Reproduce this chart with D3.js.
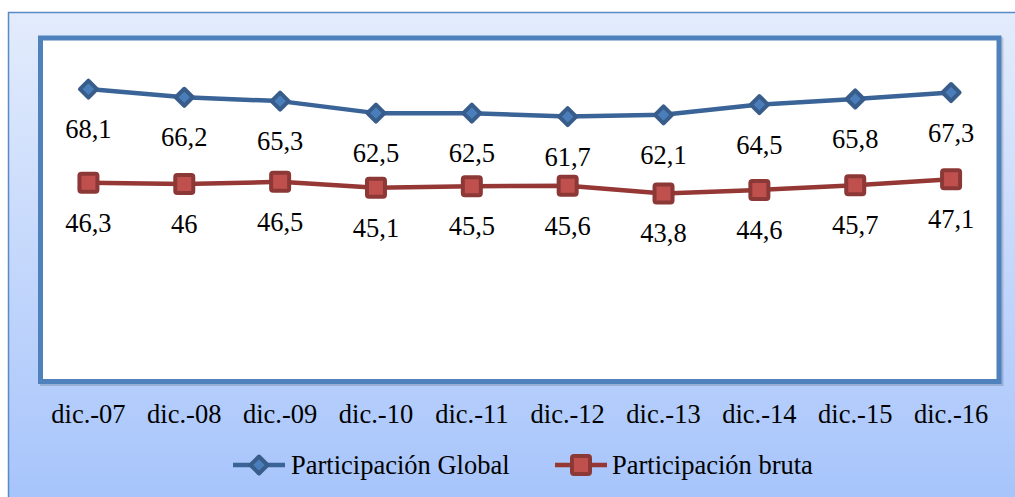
<!DOCTYPE html>
<html><head><meta charset="utf-8">
<script src="https://cdn.jsdelivr.net/npm/d3@7/dist/d3.min.js"></script>
</head><body style="margin:0;overflow:hidden;font-family:'Liberation Serif'">
<script>
const categories = ["dic.-07","dic.-08","dic.-09","dic.-10","dic.-11","dic.-12","dic.-13","dic.-14","dic.-15","dic.-16"];
const global = [68.1,66.2,65.3,62.5,62.5,61.7,62.1,64.5,65.8,67.3];
const bruta = [46.3,46,46.5,45.1,45.5,45.6,43.8,44.6,45.7,47.1];
const seriesNames = ["Participación Global","Participación bruta"];

const W = 1015, H = 497;
const FONT = '"Liberation Serif"';
const FS = "26.5px";
const svg = d3.select("body").append("svg").attr("width", W).attr("height", H)
  .style("display","block").style("font-family", FONT);
const defs = svg.append("defs");
const grad = defs.append("linearGradient").attr("id","bg").attr("x1",0).attr("y1",0).attr("x2",0).attr("y2",1);
grad.append("stop").attr("offset","0%").attr("stop-color","#e3ecfc");
grad.append("stop").attr("offset","100%").attr("stop-color","#a5c3fb");

svg.append("rect").attr("x",10.5).attr("y",14.5).attr("width",1030).attr("height",500)
  .attr("fill","none").attr("stroke","#000").attr("stroke-opacity",0.12).attr("stroke-width",2);
svg.append("rect").attr("x",8.5).attr("y",12.5).attr("width",1030).attr("height",500)
  .attr("fill","url(#bg)").attr("stroke","#5a8ac6").attr("stroke-width",1.5);

const L = 40.5, R = 999, T = 38, B = 381.5;
const x = d3.scaleBand().domain(categories).range([L, R]);
const y = d3.scaleLinear().domain([0, 80]).range([B, T]);

svg.append("rect").attr("x",L+2).attr("y",T+2).attr("width",R-L).attr("height",B-T)
  .attr("fill","none").attr("stroke","#000").attr("stroke-opacity",0.15).attr("stroke-width",5);
svg.append("rect").attr("x",L).attr("y",T).attr("width",R-L).attr("height",B-T)
  .attr("fill","#fff").attr("stroke","#4f81bd").attr("stroke-width",5);

const cx = d => x(d) + x.bandwidth()/2;
const line = d3.line().x((d,i)=>cx(categories[i])).y(d=>y(d));

function styleText(sel){
  return sel.style("font-family", FONT).style("font-size", FS);
}

// Category axis drawn by d3.axisBottom
const xAxis = d3.axisBottom(x).tickSize(0).tickPadding(0);
const ax = svg.append("g").attr("transform",`translate(0,${B})`).call(xAxis);
ax.attr("font-family", null).attr("font-size", null);
ax.select(".domain").remove();
styleText(ax.selectAll("text")).attr("fill","#000").attr("dy",null).attr("y",41.5);

// Global series
svg.append("path").datum(global).attr("d",line).attr("fill","none")
  .attr("stroke","#3a6397").attr("stroke-width",4.5).attr("stroke-linejoin","round");
const diamond = s => `M0,${-s}L${s},0L0,${s}L${-s},0Z`;
svg.selectAll(".dg").data(global).enter().append("path")
  .attr("d", diamond(8.5))
  .attr("transform",(d,i)=>`translate(${cx(categories[i])},${y(d)})`)
  .attr("fill","#4a7ebb").attr("stroke","#385d8a").attr("stroke-width",4).attr("stroke-linejoin","round");

// Bruta series
svg.append("path").datum(bruta).attr("d",line).attr("fill","none")
  .attr("stroke","#953735").attr("stroke-width",4.5).attr("stroke-linejoin","round");
svg.selectAll(".sq").data(bruta).enter().append("rect")
  .attr("x",(d,i)=>cx(categories[i])-9).attr("y",d=>y(d)-9).attr("width",18).attr("height",18)
  .attr("rx",2).attr("fill","#c0504d").attr("stroke","#8c3836").attr("stroke-width",4);

// Data labels
const fmt = v => String(v).replace(".",",");
styleText(svg.selectAll(".lg").data(global).enter().append("text")
  .attr("x",(d,i)=>cx(categories[i])).attr("y",d=>y(d)+49)
  .attr("text-anchor","middle").text(fmt));
styleText(svg.selectAll(".lb").data(bruta).enter().append("text")
  .attr("x",(d,i)=>cx(categories[i])).attr("y",d=>y(d)+49)
  .attr("text-anchor","middle").text(fmt));

// Legend
const ly = 465;
const lg1 = svg.append("g").attr("transform",`translate(259,${ly})`);
lg1.append("line").attr("x1",-26).attr("x2",26).attr("stroke","#3a6397").attr("stroke-width",4.5);
lg1.append("path").attr("d",diamond(8.5)).attr("fill","#4a7ebb").attr("stroke","#385d8a").attr("stroke-width",4).attr("stroke-linejoin","round");
styleText(lg1.append("text").attr("x",32).attr("y",9).text(seriesNames[0]));

const lg2 = svg.append("g").attr("transform",`translate(581,${ly})`);
lg2.append("line").attr("x1",-26).attr("x2",26).attr("stroke","#953735").attr("stroke-width",4.5);
lg2.append("rect").attr("x",-9).attr("y",-9).attr("width",18).attr("height",18).attr("rx",2)
  .attr("fill","#c0504d").attr("stroke","#8c3836").attr("stroke-width",4);
styleText(lg2.append("text").attr("x",31).attr("y",9).text(seriesNames[1]));
</script>
</body></html>
